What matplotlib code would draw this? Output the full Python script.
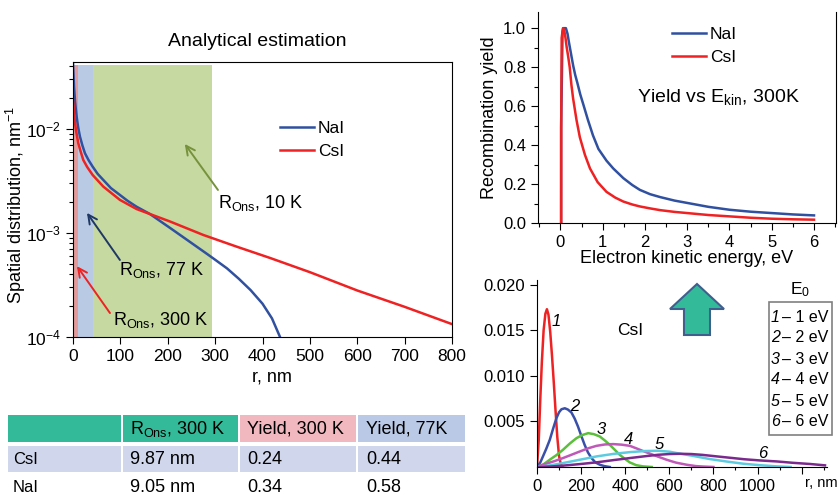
import matplotlib
matplotlib.use('Agg')
import matplotlib.pyplot as plt
from matplotlib.patches import Rectangle, FancyArrow
from matplotlib.ticker import AutoMinorLocator, MultipleLocator, FixedLocator

plt.rcParams['font.family'] = 'Liberation Sans'
plt.rcParams['mathtext.fontset'] = 'custom'
plt.rcParams['mathtext.rm'] = 'Liberation Sans'
plt.rcParams['mathtext.it'] = 'Liberation Sans:italic'

# spatial distribution (left plot)
r_nai = [0, 0.5, 2.1, 4.5, 7.7, 11, 14.8, 20, 25.3, 33, 41.5, 52, 64, 80, 99, 115, 134, 162.5,
         204.6, 240, 282, 300, 325, 350, 375, 400, 420, 437]
dist_nai = [0.044, 0.038, 0.0255, 0.018, 0.0131, 0.0103, 0.0084, 0.0069, 0.00583, 0.0050,
            0.00434, 0.0037, 0.00323, 0.0027, 0.00232, 0.00204, 0.00179, 0.00152, 0.00112,
            0.000863, 0.000633, 0.000553, 0.000457, 0.000363, 0.000282, 0.000209, 0.000151,
            0.0001]
r_csi = [0, 0.6, 2, 4.2, 7, 11.2, 16, 21.7, 30, 41.5, 64, 99, 134, 162.5, 204.6, 275, 345, 416,
         500, 600, 700, 800]
dist_csi = [0.019, 0.0177, 0.0145, 0.0114, 0.0093, 0.00728, 0.0061, 0.00503, 0.0043, 0.00361,
            0.00279, 0.00208, 0.0017, 0.00152, 0.00129, 0.000957, 0.00074, 0.000575, 0.00042,
            0.00028, 0.000195, 0.000133]
r_ons = [9.87, 42, 293]   # 300 K, 77 K, 10 K
span_top = 0.041

# recombination yield vs kinetic energy (top right)
e_nai = [0.015, 0.016, 0.035, 0.05, 0.07, 0.13, 0.17, 0.2, 0.25, 0.3, 0.35, 0.4, 0.47, 0.54,
         0.65, 0.77, 0.9, 1.09, 1.25, 1.49, 1.7, 1.88, 2.12, 2.36, 2.7, 3, 3.5, 4, 4.5, 5, 5.5, 6]
yield_nai = [0, 0.49, 0.75, 0.98, 1.0, 1.0, 0.97, 0.93, 0.87, 0.81, 0.76, 0.72, 0.66, 0.61,
             0.53, 0.45, 0.38, 0.32, 0.28, 0.23, 0.195, 0.17, 0.148, 0.133, 0.115, 0.103, 0.083,
             0.068, 0.058, 0.051, 0.044, 0.039]
e_csi = [0.02, 0.021, 0.03, 0.06, 0.09, 0.12, 0.15, 0.18, 0.22, 0.26, 0.3, 0.38, 0.46, 0.58,
         0.7, 0.88, 1.09, 1.3, 1.49, 1.7, 1.88, 2.12, 2.36, 2.7, 3, 3.5, 4, 4.5, 5, 5.5, 6]
yield_csi = [0, 0.6, 0.95, 1.0, 0.99, 0.95, 0.9, 0.86, 0.80, 0.71, 0.64, 0.53, 0.44, 0.35,
             0.28, 0.21, 0.16, 0.13, 0.11, 0.095, 0.085, 0.075, 0.066, 0.057, 0.051, 0.041,
             0.034, 0.027, 0.022, 0.019, 0.017]

# CsI distributions for E0 = 1..6 eV (bottom right)
r1 = [0, 8, 15, 22, 30, 38, 45, 52, 60, 68, 76, 84, 92, 100, 108, 116]
d1 = [0, 0.003, 0.0075, 0.0115, 0.015, 0.0168, 0.0173, 0.0167, 0.0148, 0.0122, 0.0093,
      0.0062, 0.0033, 0.0012, 0.0003, 0]
r2 = [0, 15, 27, 42, 58, 73, 88, 100, 111, 126, 140, 156, 171, 186, 201, 216, 231, 247,
      265, 285, 305, 330]
d2 = [0, 0.0005, 0.00116, 0.0020, 0.00298, 0.0042, 0.00535, 0.0060, 0.00633, 0.00644, 0.0063,
      0.00598, 0.0053, 0.00443, 0.0034, 0.00243, 0.0016, 0.00098, 0.0005, 0.00025, 0.0001, 0]
r3 = [0, 30, 58, 88, 118, 150, 179, 205, 232, 258, 285, 308, 330, 352, 375, 398, 421, 450,
      480, 520]
d3 = [0, 0.0003, 0.0008, 0.0013, 0.00189, 0.0026, 0.00316, 0.0035, 0.00371, 0.0036, 0.00334,
      0.0029, 0.00243, 0.0019, 0.00134, 0.0009, 0.0005, 0.0002, 0.00007, 0]
r4 = [0, 42, 80, 118, 156, 194, 232, 270, 308, 345, 383, 421, 450, 481, 530, 587, 630, 678,
      720, 753, 800]
d4 = [0, 0.00036, 0.00065, 0.00098, 0.00134, 0.0017, 0.00205, 0.00232, 0.00247, 0.00251,
      0.00245, 0.00232, 0.00205, 0.00175, 0.0013, 0.0008, 0.00048, 0.00025, 0.0001, 0.00005, 0]
r5 = [0, 60, 118, 195, 270, 345, 421, 490, 549, 600, 633, 700, 784, 860, 935, 1010, 1087, 1150]
d5 = [0, 0.00018, 0.00043, 0.0008, 0.00116, 0.00143, 0.00163, 0.00175, 0.00178, 0.00168,
      0.00153, 0.00125, 0.00087, 0.0006, 0.00036, 0.0002, 0.00007, 0]
r6 = [0, 60, 118, 195, 270, 345, 421, 490, 549, 600, 648, 700, 750, 800, 860, 940, 1010,
      1087, 1160, 1238, 1306]
d6 = [0, 0.00005, 0.00015, 0.00032, 0.00051, 0.00075, 0.00098, 0.00118, 0.00134, 0.00142,
      0.00145, 0.00142, 0.00133, 0.0012, 0.00105, 0.00085, 0.00072, 0.00061, 0.00046, 0.00033,
      0.00018]
e0_curves = [(r1, d1), (r2, d2), (r3, d3), (r4, d4), (r5, d5), (r6, d6)]
e0_colors = ['#ee2222', '#3a50a8', '#5cbf3c', '#c058b8', '#5ccbe0', '#7a2a8c']
e0_label_pos = [(89, 0.0159), (171, 0.00661), (292, 0.00407), (413, 0.00297),
                (554, 0.00249), (1025, 0.00153)]

# table
table_head = ['', 'R$_{\\mathrm{Ons}}$, 300 K', 'Yield, 300 K', 'Yield, 77K']
table_rows = ['CsI', 'NaI']
table_rons = ['9.87 nm', '9.05 nm']
table_y300 = ['0.24', '0.34']
table_y77 = ['0.44', '0.58']

W, H = 840, 495
BLUE = '#3050a0'
RED = '#ee2222'
fig = plt.figure(figsize=(W / 100, H / 100), dpi=100)


def px_axes(l, t, r, b):
    return fig.add_axes([l / W, 1 - b / H, (r - l) / W, (b - t) / H])


# ---------------- left: spatial distribution
ax = px_axes(73, 62, 452, 337)
ax.fill_between([0, r_ons[0]], 1e-4, span_top, color='#e39a9a', lw=0)
ax.fill_between([r_ons[0], r_ons[1]], 1e-4, span_top, color='#b9cbe4', lw=0)
ax.fill_between([r_ons[1], r_ons[2]], 1e-4, span_top, color='#c5d9a0', lw=0)
ax.plot(r_nai, dist_nai, color=BLUE, lw=1.8, label='NaI')
ax.plot(r_csi, dist_csi, color=RED, lw=1.8, label='CsI')
ax.set_yscale('log')
ax.set_xlim(0, 800)
ax.set_ylim(1e-4, 0.044)
ax.xaxis.set_major_locator(MultipleLocator(100))
ax.tick_params(which='both', direction='out', top=False, right=False, width=0.8)
ax.tick_params(which='major', length=5, labelsize=12.5)
ax.tick_params(which='minor', length=3)
ax.set_xlabel('r, nm', fontsize=13)
ax.set_ylabel('Spatial distribution, nm$^{-1}$', fontsize=13)
ax.xaxis.set_label_coords(0.526, -0.115)
ax.yaxis.set_label_coords(-0.118, 0.48)
for s in ax.spines.values():
    s.set_linewidth(0.8)
ax.legend(loc='upper left', bbox_to_anchor=(264 / W, 1 - 105 / H), bbox_transform=fig.transFigure,
          frameon=False, fontsize=12.5, handlelength=2.0, handletextpad=0.2, labelspacing=0.45)

notes = [('R$_{\\mathrm{Ons}}$, 10 K', (236, 0.00717), (306, 0.00259), (306, 0.00195), '#76923c'),
         ('R$_{\\mathrm{Ons}}$, 77 K', (29.5, 0.00156), (99, 0.00055), (97, 0.00044), '#1f3864'),
         ('R$_{\\mathrm{Ons}}$, 300 K', (8.4, 0.00048), (78, 0.00017), (84, 0.000146), RED)]
for txt, head, tail, tpos, col in notes:
    ax.annotate('', xy=head, xytext=tail,
                arrowprops=dict(arrowstyle='->', color=col, lw=1.4, mutation_scale=16,
                                shrinkA=0, shrinkB=0))
    ax.text(tpos[0], tpos[1], txt, fontsize=13, ha='left', va='center')

fig.text(257 / W, 1 - 41 / H, 'Analytical estimation', fontsize=14, ha='center', va='center')

# ---------------- top right: yield vs Ekin
ax2 = px_axes(538, 12, 836, 223)
ax2.plot(e_nai, yield_nai, color=BLUE, lw=1.8, label='NaI')
ax2.plot(e_csi, yield_csi, color=RED, lw=1.8, label='CsI')
ax2.set_xlim(-0.53, 6.52)
ax2.set_ylim(0, 1.083)
ax2.xaxis.set_major_locator(MultipleLocator(1))
ax2.xaxis.set_minor_locator(AutoMinorLocator(2))
ax2.yaxis.set_major_locator(MultipleLocator(0.2))
ax2.yaxis.set_minor_locator(AutoMinorLocator(2))
ax2.yaxis.set_major_formatter(plt.FormatStrFormatter('%.1f'))
ax2.spines['top'].set_visible(False)
for s in ax2.spines.values():
    s.set_linewidth(0.8)
ax2.tick_params(which='both', direction='out', top=False, right=False, width=0.8)
ax2.tick_params(which='major', length=5, labelsize=12)
ax2.tick_params(which='minor', length=3)
ax2.set_xlabel('Electron kinetic energy, eV', fontsize=13, labelpad=0)
ax2.set_ylabel('Recombination yield', fontsize=13)
ax2.legend(loc='upper left', bbox_to_anchor=(656 / W, 1 - 11 / H), bbox_transform=fig.transFigure,
           frameon=False, fontsize=12.5, handlelength=2.0, handletextpad=0.2, labelspacing=0.45)
ax2.text(1.81, 0.648, 'Yield vs E$_{\\mathrm{kin}}$, 300K', fontsize=14, ha='left', va='center')

# ---------------- bottom right: CsI distributions
ax3 = px_axes(537, 280, 827, 467)
for (rr, dd), col in zip(e0_curves, e0_colors):
    ax3.plot(rr, dd, color=col, lw=1.8)
for i, (x, y) in enumerate(e0_label_pos):
    ax3.text(x, y, str(i + 1), fontsize=12, style='italic', ha='center', va='center')
ax3.set_xlim(0, 1315)
ax3.set_ylim(0, 0.0205)
ax3.xaxis.set_major_locator(FixedLocator([0, 200, 400, 600, 800, 1000, 1200]))
ax3.set_xticklabels(['0', '200', '400', '600', '800', '1000', ''])
ax3.xaxis.set_minor_locator(MultipleLocator(100))
ax3.yaxis.set_major_locator(FixedLocator([0.005, 0.010, 0.015, 0.020]))
ax3.yaxis.set_major_formatter(plt.FormatStrFormatter('%.3f'))
ax3.spines['top'].set_visible(False)
ax3.spines['right'].set_visible(False)
for s in ax3.spines.values():
    s.set_linewidth(0.8)
ax3.tick_params(which='both', direction='out', top=False, right=False, width=0.8)
ax3.tick_params(which='major', length=5, labelsize=12)
ax3.tick_params(which='minor', length=2.5)
ax3.text(1214, -0.084, 'r, nm', fontsize=10.5, ha='left', va='center',
         transform=ax3.get_xaxis_transform())
ax3.text(362, 0.0150, 'CsI', fontsize=12.5, ha='left', va='center')

# ---------------- overlay: arrow, E0 box, table
ov = fig.add_axes([0, 0, 1, 1])
ov.set_xlim(0, W)
ov.set_ylim(H, 0)
ov.axis('off')

ov.add_patch(FancyArrow(697, 335, 0, -26, width=26, head_width=54, head_length=25,
                        length_includes_head=False, facecolor='#33bb99', edgecolor='#3f5f8f', lw=1.5))

ov.text(800, 290, 'E$_0$', fontsize=12.5, ha='center', va='center')
ov.add_patch(Rectangle((769, 302), 63, 133, fill=False, edgecolor='#808080', lw=1.2))
for i in range(6):
    y = 317 + i * 21
    ov.text(771, y, str(i + 1), fontsize=11.5, style='italic', ha='left', va='center')
    ov.text(828, y, '\u2013 %d eV' % (i + 1), fontsize=11.5, ha='right', va='center')

col_edges = [(8, 121), (123, 238), (240, 356), (358, 465)]
col_text_x = [13, 130, 247, 366]
head_colors = ['#33bb99', '#33bb99', '#f2b8c0', '#bacae6']
for (x0, x1), c in zip(col_edges, head_colors):
    ov.add_patch(Rectangle((x0, 415), x1 - x0, 27, color=c, lw=0))
    ov.add_patch(Rectangle((x0, 446), x1 - x0, 26, color='#d0d6ec', lw=0))
for x, t in zip(col_text_x, table_head):
    ov.text(x, 429, t, fontsize=13, ha='left', va='center')
for i, name in enumerate(table_rows):
    y = 459 + i * 28
    ov.text(col_text_x[0], y, name, fontsize=12, ha='left', va='center')
    ov.text(col_text_x[1], y, table_rons[i], fontsize=13, ha='left', va='center')
    ov.text(col_text_x[2], y, table_y300[i], fontsize=13, ha='left', va='center')
    ov.text(col_text_x[3], y, table_y77[i], fontsize=13, ha='left', va='center')

fig.savefig('out.png', dpi=100)
